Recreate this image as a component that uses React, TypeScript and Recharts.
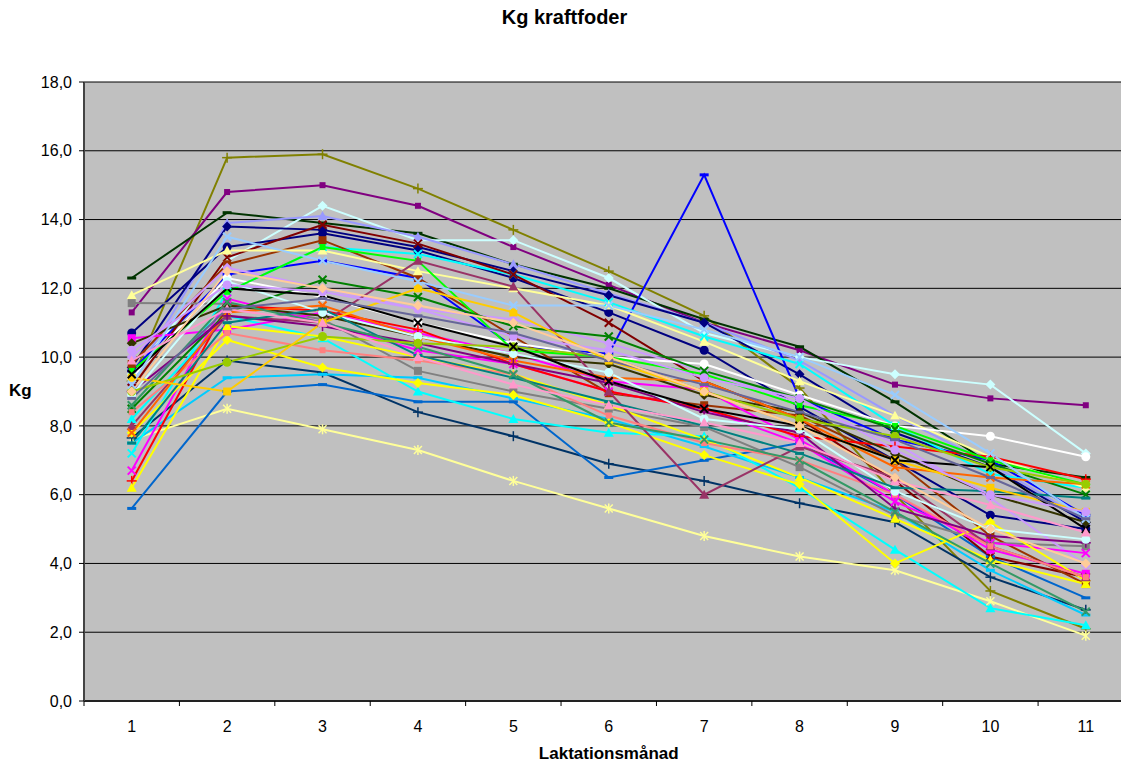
import React from "react";
import { LineChart, Line, XAxis, YAxis, CartesianGrid } from "recharts";

// Laktationsmånad 1-11, kg kraftfoder per ko
const months = [1, 2, 3, 4, 5, 6, 7, 8, 9, 10, 11];
const yTicks = [0, 2, 4, 6, 8, 10, 12, 14, 16, 18];

const ko01 = [9.3, 15.8, 15.9, 14.9, 13.7, 12.5, 11.2, 9.1, 6.0, 3.2, 2.1];
const ko02 = [11.3, 14.8, 15.0, 14.4, 13.2, 12.1, 11.0, 10.2, 9.2, 8.8, 8.6];
const ko03 = [12.3, 14.2, 13.9, 13.6, 12.7, 12.0, 11.1, 10.3, 8.7, 6.9, 6.5];
const ko04 = [9.5, 12.8, 14.4, 13.4, 13.4, 12.3, 10.7, 10.0, 9.5, 9.2, 7.2];
const ko05 = [9.3, 13.9, 14.1, 13.5, 12.7, 11.85, 11.0, 9.9, 8.3, 6.9, 5.25];
const ko06 = [10.7, 13.2, 13.6, 13.1, 12.3, 11.3, 10.2, 8.55, 7.0, 5.4, 5.0];
const ko07 = [9.7, 13.8, 13.7, 13.2, 12.5, 11.8, 11.0, 9.5, 7.8, 6.8, 5.2];
const ko08 = [9.6, 12.4, 12.8, 12.3, 10.3, 10.1, 15.3, 8.8, 7.6, 7.0, 5.4];
const ko09 = [7.6, 8.5, 7.9, 7.3, 6.4, 5.6, 4.8, 4.2, 3.8, 2.9, 1.9];
const ko10 = [7.65, 9.9, 9.55, 8.4, 7.7, 6.9, 6.4, 5.75, 5.2, 3.6, 2.65];
const ko11 = [5.6, 9.0, 9.2, 8.7, 8.7, 6.5, 7.0, 7.5, 6.0, 4.2, 3.0];
const ko12 = [7.5, 9.4, 9.5, 9.4, 8.8, 8.2, 7.4, 6.5, 5.5, 3.8, 2.5];
const ko13 = [8.2, 11.2, 10.55, 9.0, 8.2, 7.8, 7.7, 6.2, 4.4, 2.7, 2.2];
const ko14 = [7.2, 11.9, 13.2, 13.0, 12.4, 11.6, 10.6, 9.8, 8.0, 6.6, 6.2];
const ko15 = [9.1, 12.9, 13.85, 13.3, 12.4, 11.0, 9.3, 8.2, 6.4, 4.2, 3.6];
const ko16 = [9.8, 12.7, 13.4, 12.3, 10.6, 8.95, 8.6, 8.3, 7.0, 4.8, 3.4];
const ko17 = [11.8, 13.1, 13.1, 12.5, 12.0, 11.5, 10.45, 9.3, 8.3, 7.1, 6.2];
const ko18 = [11.57, 11.55, 11.1, 9.6, 9.0, 8.5, 7.97, 6.8, 5.4, 4.6, 4.5];
const ko19 = [10.0, 12.6, 12.0, 11.4, 11.1, 10.4, 9.6, 8.65, 7.5, 5.9, 3.95];
const ko20 = [9.4, 12.3, 11.75, 11.0, 10.4, 10.0, 9.8, 8.9, 8.0, 7.7, 7.1];
const ko21 = [10.55, 10.8, 11.3, 10.7, 10.1, 9.3, 9.05, 7.6, 6.0, 4.4, 3.7];
const ko22 = [6.7, 11.7, 11.0, 10.2, 9.8, 9.0, 8.5, 7.5, 5.8, 4.6, 4.3];
const ko23 = [6.4, 11.5, 11.35, 10.8, 9.8, 9.0, 8.5, 7.7, 7.4, 7.1, 6.45];
const ko24 = [6.2, 10.9, 10.6, 10.0, 9.5, 8.6, 7.6, 6.5, 5.3, 4.1, 3.4];
const ko25 = [7.8, 10.5, 9.7, 9.25, 8.9, 8.1, 7.15, 6.3, 4.0, 5.2, 3.5];
const ko26 = [9.6, 11.9, 13.2, 12.8, 10.2, 10.0, 9.5, 8.6, 8.0, 7.0, 6.3];
const ko27 = [8.5, 11.3, 12.25, 11.75, 10.9, 10.6, 9.6, 8.8, 7.9, 6.9, 6.0];
const ko28 = [10.4, 11.5, 11.2, 10.6, 10.0, 9.8, 8.9, 8.4, 7.2, 6.0, 5.2];
const ko29 = [8.0, 11.2, 11.0, 12.8, 12.05, 9.0, 6.0, 7.4, 6.5, 4.5, 3.6];
const ko30 = [8.4, 10.7, 10.2, 9.9, 9.5, 8.3, 7.5, 7.0, 6.0, 4.5, 3.6];
const ko31 = [7.8, 11.3, 11.5, 10.6, 9.9, 9.4, 9.3, 8.2, 6.8, 6.5, 6.3];
const ko32 = [9.0, 11.2, 10.9, 10.4, 9.8, 9.25, 8.4, 7.8, 5.6, 4.8, 4.6];
const ko33 = [8.9, 12.2, 11.3, 10.6, 10.1, 9.55, 8.2, 7.9, 6.1, 5.0, 4.7];
const ko34 = [7.5, 11.0, 11.4, 10.05, 9.4, 8.7, 8.0, 7.2, 6.2, 6.1, 5.9];
const ko35 = [8.6, 11.6, 11.0, 10.3, 9.5, 8.1, 7.6, 7.0, 5.5, 4.0, 2.6];
const ko36 = [9.0, 9.85, 10.6, 10.4, 10.3, 10.0, 9.0, 8.2, 7.7, 6.8, 6.3];
const ko37 = [9.4, 9.0, 11.0, 12.0, 11.3, 9.9, 9.0, 8.0, 7.0, 6.2, 5.5];
const ko38 = [9.5, 12.0, 11.8, 11.0, 10.3, 9.3, 8.5, 8.0, 7.0, 6.8, 5.0];
const ko39 = [9.2, 13.5, 12.8, 12.2, 11.5, 11.5, 10.8, 10.0, 8.9, 7.2, 5.3];
const ko40 = [9.9, 11.4, 11.0, 10.0, 9.2, 8.6, 8.1, 7.5, 6.4, 5.7, 4.9];
const ko41 = [10.2, 12.1, 11.9, 11.4, 10.6, 10.2, 9.4, 8.8, 7.3, 6.0, 5.5];
const ko42 = [8.8, 11.4, 11.7, 11.2, 10.7, 9.9, 9.2, 8.4, 7.6, 6.5, 5.3];
const ko43 = [9.0, 12.5, 12.0, 11.5, 11.0, 10.0, 9.0, 8.0, 6.5, 5.0, 4.0];

const allSeries: [string, number[]][] = [
  ["ko01", ko01], ["ko02", ko02], ["ko03", ko03], ["ko04", ko04], ["ko05", ko05],
  ["ko06", ko06], ["ko07", ko07], ["ko08", ko08], ["ko09", ko09], ["ko10", ko10],
  ["ko11", ko11], ["ko12", ko12], ["ko13", ko13], ["ko14", ko14], ["ko15", ko15],
  ["ko16", ko16], ["ko17", ko17], ["ko18", ko18], ["ko19", ko19], ["ko20", ko20],
  ["ko21", ko21], ["ko22", ko22], ["ko23", ko23], ["ko24", ko24], ["ko25", ko25],
  ["ko26", ko26], ["ko27", ko27], ["ko28", ko28], ["ko29", ko29], ["ko30", ko30],
  ["ko31", ko31], ["ko32", ko32], ["ko33", ko33], ["ko34", ko34], ["ko35", ko35],
  ["ko36", ko36], ["ko37", ko37], ["ko38", ko38], ["ko39", ko39], ["ko40", ko40],
  ["ko41", ko41], ["ko42", ko42], ["ko43", ko43],
];

// colour + marker per series (excel-ish)
const look: Record<string, [string, string]> = {
  ko01: ["#808000", "plus"], ko02: ["#800080", "small"], ko03: ["#003300", "dash"],
  ko04: ["#CCFFFF", "diamond"], ko05: ["#9999FF", "triangle"], ko06: ["#000080", "circle"],
  ko07: ["#000080", "diamond"], ko08: ["#0000FF", "dash"], ko09: ["#FFFF99", "star"],
  ko10: ["#003366", "plus"], ko11: ["#0066CC", "dash"], ko12: ["#00CCFF", "dash"],
  ko13: ["#00FFFF", "triangle"], ko14: ["#00FFFF", "x"], ko15: ["#800000", "x"],
  ko16: ["#993300", "square"], ko17: ["#FFFF99", "triangle"], ko18: ["#808080", "square"],
  ko19: ["#CC99FF", "diamond"], ko20: ["#FFFFFF", "circle"], ko21: ["#FF00FF", "square"],
  ko22: ["#FF00FF", "x"], ko23: ["#FF0000", "plus"], ko24: ["#FFFF00", "triangle"],
  ko25: ["#FFFF00", "diamond"], ko26: ["#00FF00", "small"], ko27: ["#008000", "x"],
  ko28: ["#333300", "diamond"], ko29: ["#993366", "triangle"], ko30: ["#FF8080", "small"],
  ko31: ["#FF6600", "x"], ko32: ["#800080", "plus"], ko33: ["#CCFFFF", "circle"],
  ko34: ["#008080", "dash"], ko35: ["#339966", "x"], ko36: ["#99CC00", "circle"],
  ko37: ["#FFCC00", "square"], ko38: ["#000000", "x"], ko39: ["#99CCFF", "x"],
  ko40: ["#FF99CC", "triangle"], ko41: ["#CC99FF", "circle"], ko42: ["#666699", "dash"],
  ko43: ["#FFCC99", "diamond"],
};

const rows = months.map((m, i) => {
  const r: Record<string, number> = { x: m };
  allSeries.forEach(([k, vals]) => { r[k] = vals[i]; });
  return r;
});

const W = 1142;
const H = 767;
const PLOT_LEFT = 84;
const PLOT_TOP = 82;
const PLOT_BOTTOM = 701;
const PLOT_RIGHT = 1133.5;
const CAT_W = (PLOT_RIGHT - PLOT_LEFT) / months.length;
const FONT = "'Liberation Sans', Arial, sans-serif";

function Marker({ cx, cy, color, shape }: any) {
  if (cx == null || cy == null) return null;
  switch (shape) {
    case "diamond":
      return <polygon points={`${cx},${cy - 5} ${cx + 5},${cy} ${cx},${cy + 5} ${cx - 5},${cy}`} fill={color} />;
    case "square":
      return <rect x={cx - 4} y={cy - 4} width={8} height={8} fill={color} />;
    case "small":
      return <rect x={cx - 3} y={cy - 3} width={6} height={6} fill={color} />;
    case "triangle":
      return <polygon points={`${cx},${cy - 5} ${cx + 5},${cy + 4} ${cx - 5},${cy + 4}`} fill={color} />;
    case "circle":
      return <circle cx={cx} cy={cy} r={4.5} fill={color} />;
    case "dash":
      return <rect x={cx - 4.5} y={cy - 1.5} width={9} height={3} fill={color} />;
    case "x":
      return (
        <g stroke={color} strokeWidth={2}>
          <line x1={cx - 4} y1={cy - 4} x2={cx + 4} y2={cy + 4} />
          <line x1={cx - 4} y1={cy + 4} x2={cx + 4} y2={cy - 4} />
        </g>
      );
    case "star":
      return (
        <g stroke={color} strokeWidth={1.5}>
          <line x1={cx - 4} y1={cy - 4} x2={cx + 4} y2={cy + 4} />
          <line x1={cx - 4} y1={cy + 4} x2={cx + 4} y2={cy - 4} />
          <line x1={cx} y1={cy - 5} x2={cx} y2={cy + 5} />
        </g>
      );
    case "plus":
      return (
        <g stroke={color} strokeWidth={1.5}>
          <line x1={cx - 5} y1={cy} x2={cx + 5} y2={cy} />
          <line x1={cx} y1={cy - 5} x2={cx} y2={cy + 5} />
        </g>
      );
  }
  return null;
}

// tick marks sit between the months, labels in the middle
function XTick(props: any) {
  const { x, payload } = props;
  const v = payload.value;
  return (
    <g>
      <line x1={x} x2={x} y1={PLOT_BOTTOM} y2={PLOT_BOTTOM + 5} stroke="#000" />
      {v < months.length && (
        <text x={x + CAT_W / 2} y={PLOT_BOTTOM + 31} textAnchor="middle" fontSize={16} fill="#000" fontFamily={FONT}>
          {v + 0.5}
        </text>
      )}
    </g>
  );
}

export default function App() {
  return (
    <div style={{ position: "relative", margin: -8, width: 1129, height: H, overflow: "hidden", background: "#fff", fontFamily: FONT }}>
      <div style={{ position: "absolute", left: 0, top: 6, width: 1129, textAlign: "center", fontSize: 20, fontWeight: "bold" }}>
        Kg kraftfoder
      </div>
      <div style={{ position: "absolute", left: 9, top: 381, fontSize: 17, fontWeight: "bold" }}>Kg</div>
      <div style={{ position: "absolute", left: PLOT_LEFT, top: 744, width: PLOT_RIGHT - PLOT_LEFT, textAlign: "center", fontSize: 17, fontWeight: "bold" }}>
        Laktationsmånad
      </div>
      <LineChart width={W} height={H} data={rows} margin={{ top: PLOT_TOP, right: W - PLOT_RIGHT, bottom: 0, left: 0 }}>
        <CartesianGrid vertical={false} stroke="#000" fill="#C0C0C0" fillOpacity={1} />
        <XAxis
          dataKey="x"
          type="number"
          domain={[0.5, months.length + 0.5]}
          ticks={months.map((m) => m - 0.5)}
          interval={0}
          height={H - PLOT_BOTTOM}
          tick={<XTick />}
          tickLine={false}
          axisLine={{ stroke: "#222", strokeWidth: 2 }}
        />
        <YAxis
          domain={[0, 18]}
          ticks={yTicks}
          interval={0}
          width={PLOT_LEFT}
          tickFormatter={(v: number) => v.toFixed(1).replace(".", ",")}
          tick={{ fill: "#000", fontSize: 16, fontFamily: FONT }}
          tickSize={5}
          tickMargin={7}
          tickLine={{ stroke: "#000" }}
          axisLine={{ stroke: "#444", strokeWidth: 2 }}
        />
        {allSeries.map(([k]) => {
          const [color, shape] = look[k];
          return (
            <Line
              key={k}
              dataKey={k}
              stroke={color}
              strokeWidth={2}
              isAnimationActive={false}
              activeDot={false}
              dot={(p: any) => <Marker key={`${k}-${p.index}`} cx={p.cx} cy={p.cy} color={color} shape={shape} />}
            />
          );
        })}
      </LineChart>
    </div>
  );
}
